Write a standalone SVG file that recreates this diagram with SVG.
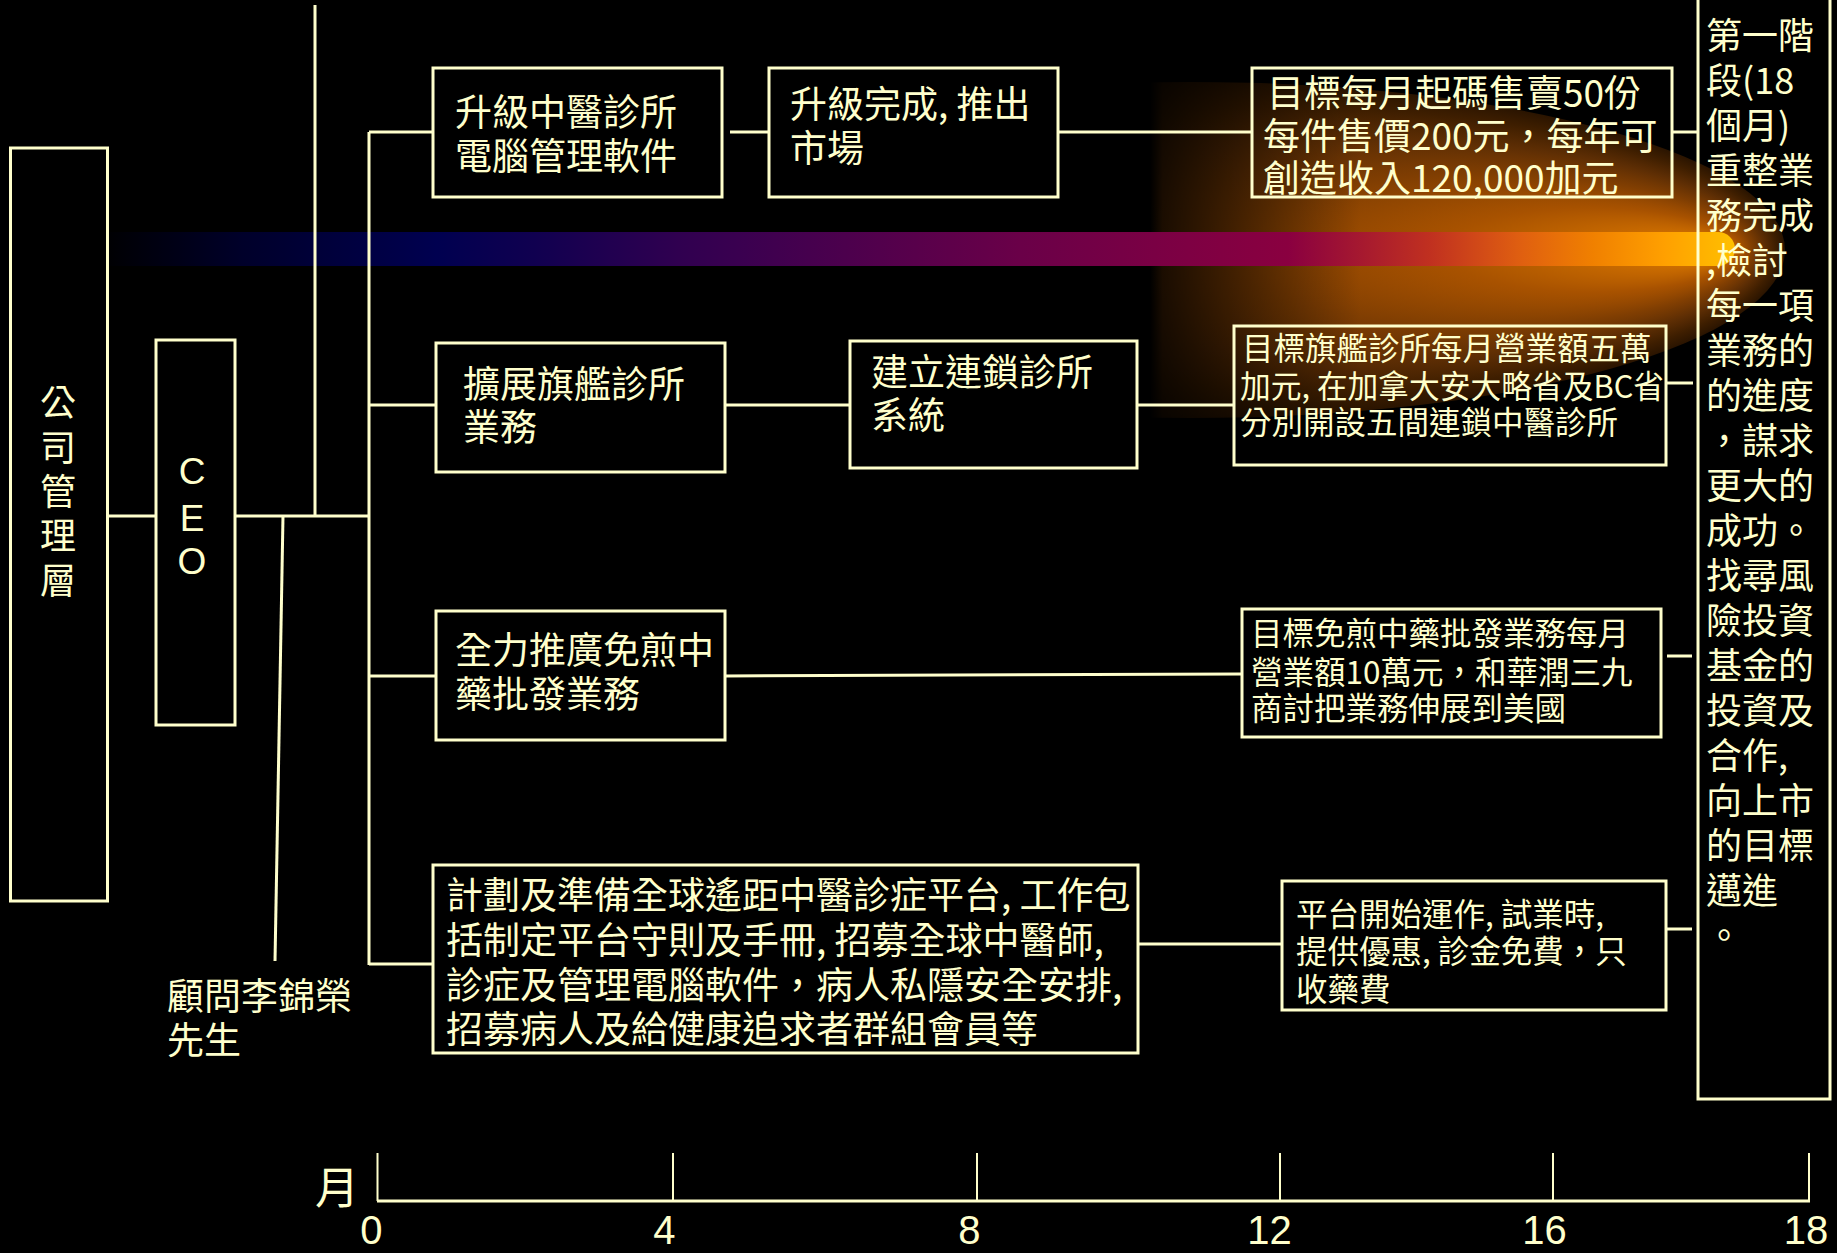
<svg xmlns="http://www.w3.org/2000/svg" width="1837" height="1253" viewBox="0 0 1837 1253">
<style>
.b{fill:none;stroke:#ffffcc;stroke-width:3}
.c{fill:none;stroke:#ffffcc;stroke-width:3}
.t{font-family:"Noto Sans CJK TC","Noto Sans CJK SC",sans-serif;fill:#ffffcc}
.f37{font-size:37px}
.f36{font-size:36px}
.f31{font-size:31.5px}
.lat{font-family:"Liberation Sans",Arial,sans-serif;fill:#ffffcc}
</style>
<defs>
<radialGradient id="glowG" cx="0.5" cy="0.5" r="0.5" fx="0.95" fy="0.5">
<stop offset="0" stop-color="#e88a00"/>
<stop offset="0.08" stop-color="#d07000"/>
<stop offset="0.25" stop-color="#a85200"/>
<stop offset="0.45" stop-color="#803e02"/>
<stop offset="0.65" stop-color="#5e2e04"/>
<stop offset="0.85" stop-color="#3e1e00"/>
<stop offset="1" stop-color="#2a1400"/>
</radialGradient>
<linearGradient id="fadeG" gradientUnits="userSpaceOnUse" x1="1150" y1="0" x2="1360" y2="0">
<stop offset="0" stop-color="#000"/>
<stop offset="0.06" stop-color="#3a3a3a"/>
<stop offset="1" stop-color="#fff"/>
</linearGradient>
<mask id="fadeM" maskUnits="userSpaceOnUse" x="0" y="0" width="1837" height="1253">
<rect x="0" y="0" width="1837" height="1253" fill="url(#fadeG)"/>
</mask>
<linearGradient id="barG" gradientUnits="userSpaceOnUse" x1="100" y1="0" x2="1735" y2="0">
<stop offset="0" stop-color="#000000"/>
<stop offset="0.087" stop-color="#00002a"/>
<stop offset="0.206" stop-color="#000050"/>
<stop offset="0.265" stop-color="#100050"/>
<stop offset="0.354" stop-color="#300050"/>
<stop offset="0.391" stop-color="#3a0050"/>
<stop offset="0.563" stop-color="#6a0048"/>
<stop offset="0.727" stop-color="#8a0040"/>
<stop offset="0.813" stop-color="#c03020"/>
<stop offset="0.870" stop-color="#e06010"/>
<stop offset="0.913" stop-color="#f08000"/>
<stop offset="0.957" stop-color="#ffa000"/>
<stop offset="1" stop-color="#ffc000"/>
</linearGradient>
</defs>
<rect x="0" y="0" width="1837" height="1253" fill="#000"/>

<g id="comet">
<ellipse cx="1190" cy="250" rx="595" ry="168" fill="url(#glowG)" mask="url(#fadeM)"/>
<path d="M100,232 H1718 A17,17 0 0 1 1718,266 H100 Z" fill="url(#barG)"/>
</g>

<g id="connectors">
<line class="c" x1="107" y1="516" x2="156" y2="516"/>
<line class="c" x1="235" y1="516" x2="369" y2="516"/>
<line class="c" x1="315" y1="5" x2="315" y2="516"/>
<line class="c" x1="283" y1="516" x2="275" y2="961"/>
<line class="c" x1="369" y1="132" x2="369" y2="965"/>
<line class="c" x1="369" y1="132" x2="433" y2="132"/>
<line class="c" x1="369" y1="405" x2="436" y2="405"/>
<line class="c" x1="369" y1="676" x2="436" y2="676"/>
<line class="c" x1="369" y1="964" x2="433" y2="964"/>
<line class="c" x1="730" y1="132" x2="769" y2="132"/>
<line class="c" x1="1058" y1="132" x2="1252" y2="132"/>
<line class="c" x1="1672" y1="132" x2="1698" y2="132"/>
<line class="c" x1="725" y1="405" x2="850" y2="405"/>
<line class="c" x1="1137" y1="405" x2="1234" y2="405"/>
<line class="c" x1="1666" y1="383" x2="1693" y2="383"/>
<line class="c" x1="725" y1="676" x2="1242" y2="674"/>
<line class="c" x1="1667" y1="656" x2="1692" y2="656"/>
<line class="c" x1="1137" y1="944" x2="1282" y2="944"/>
<line class="c" x1="1666" y1="929" x2="1692" y2="929"/>
</g>

<g id="mgmt">
<rect class="b" x="10.5" y="148" width="97" height="753"/>
<text class="t f36" text-anchor="middle"><tspan x="58" y="416">公</tspan><tspan x="58" y="461">司</tspan><tspan x="58" y="505">管</tspan><tspan x="58" y="549">理</tspan><tspan x="58" y="594">層</tspan></text>
</g>

<g id="ceo">
<rect class="b" x="156" y="340" width="79" height="385"/>
<text class="lat" font-size="37" text-anchor="middle"><tspan x="192" y="484">C</tspan><tspan x="192" y="531">E</tspan><tspan x="192" y="574">O</tspan></text>
</g>

<g id="advisor">
<text class="t f37"><tspan x="167" y="1010">顧問李錦榮</tspan><tspan x="167" y="1054">先生</tspan></text>
</g>

<g id="box1">
<rect class="b" x="433" y="68" width="289" height="129"/>
<text class="t f37"><tspan x="455" y="126">升級中醫診所</tspan><tspan x="455" y="170">電腦管理軟件</tspan></text>
</g>

<g id="box2">
<rect class="b" x="769" y="68" width="289" height="129"/>
<text class="t f37"><tspan x="790" y="118">升級完成, 推出</tspan><tspan x="790" y="162">市場</tspan></text>
</g>

<g id="box3">
<rect class="b" x="1252" y="68" width="420" height="129"/>
<text class="t f37"><tspan x="1267" y="107">目標每月起碼售賣50份</tspan><tspan x="1263" y="150">每件售價200元，每年可</tspan><tspan x="1263" y="192">創造收入120,000加元</tspan></text>
</g>

<g id="box4">
<rect class="b" x="436" y="343" width="289" height="129"/>
<text class="t f37"><tspan x="463" y="398">擴展旗艦診所</tspan><tspan x="463" y="441">業務</tspan></text>
</g>

<g id="box5">
<rect class="b" x="850" y="341" width="287" height="127"/>
<text class="t f37"><tspan x="871" y="386">建立連鎖診所</tspan><tspan x="871" y="429">系統</tspan></text>
</g>

<g id="box6">
<rect class="b" x="1234" y="326" width="432" height="139"/>
<text class="t f31" x="1242" y="360">目標旗艦診所每月營業額五萬</text>
<text class="t f31" x="1240" y="398" textLength="424" lengthAdjust="spacingAndGlyphs">加元, 在加拿大安大略省及BC省</text>
<text class="t f31" x="1240" y="434">分別開設五間連鎖中醫診所</text>
</g>

<g id="box7">
<rect class="b" x="436" y="611" width="289" height="129"/>
<text class="t f37"><tspan x="455" y="664">全力推廣免煎中</tspan><tspan x="455" y="708">藥批發業務</tspan></text>
</g>

<g id="box8">
<rect class="b" x="1242" y="609" width="419" height="128"/>
<text class="t f31"><tspan x="1251" y="645">目標免煎中藥批發業務每月</tspan><tspan x="1251" y="684">營業額10萬元，和華潤三九</tspan><tspan x="1251" y="720">商討把業務伸展到美國</tspan></text>
</g>

<g id="box9">
<rect class="b" x="433" y="865" width="705" height="188"/>
<text class="t f37"><tspan x="446" y="909">計劃及準備全球遙距中醫診症平台, 工作包</tspan><tspan x="446" y="954">括制定平台守則及手冊, 招募全球中醫師,</tspan><tspan x="446" y="999">診症及管理電腦軟件，病人私隱安全安排,</tspan><tspan x="446" y="1043">招募病人及給健康追求者群組會員等</tspan></text>
</g>

<g id="box10">
<rect class="b" x="1282" y="881" width="384" height="129"/>
<text class="t f31"><tspan x="1296" y="926">平台開始運作, 試業時,</tspan><tspan x="1296" y="963">提供優惠, 診金免費，只</tspan><tspan x="1296" y="1001">收藥費</tspan></text>
</g>

<g id="phase">
<path class="b" d="M1698,-5 V1099 H1830 V-5"/>
<text class="t f36">
<tspan x="1706" y="49">第一階</tspan>
<tspan x="1706" y="94">段(18</tspan>
<tspan x="1706" y="139">個月)</tspan>
<tspan x="1706" y="184">重整業</tspan>
<tspan x="1706" y="229">務完成</tspan>
<tspan x="1706" y="274">,檢討</tspan>
<tspan x="1706" y="319">每一項</tspan>
<tspan x="1706" y="364">業務的</tspan>
<tspan x="1706" y="409">的進度</tspan>
<tspan x="1706" y="454">，謀求</tspan>
<tspan x="1706" y="499">更大的</tspan>
<tspan x="1706" y="544">成功。</tspan>
<tspan x="1706" y="589">找尋風</tspan>
<tspan x="1706" y="634">險投資</tspan>
<tspan x="1706" y="679">基金的</tspan>
<tspan x="1706" y="724">投資及</tspan>
<tspan x="1706" y="769">合作,</tspan>
<tspan x="1706" y="814">向上市</tspan>
<tspan x="1706" y="859">的目標</tspan>
<tspan x="1706" y="904">邁進</tspan>
<tspan x="1706" y="949">。</tspan>
</text>
</g>

<g id="axis">
<line class="c" x1="377" y1="1201" x2="1810" y2="1201"/>
<g stroke="#ffffcc" stroke-width="2">
<line x1="377.5" y1="1153" x2="377.5" y2="1201"/>
<line x1="673" y1="1153" x2="673" y2="1201"/>
<line x1="977" y1="1153" x2="977" y2="1201"/>
<line x1="1280" y1="1153" x2="1280" y2="1201"/>
<line x1="1553" y1="1153" x2="1553" y2="1201"/>
<line x1="1809" y1="1153" x2="1809" y2="1201"/>
</g>
<text class="t" font-size="44" x="315" y="1204">月</text>
<text class="lat" font-size="40" text-anchor="middle">
<tspan x="377" y="1244">0</tspan>
<tspan x="670" y="1244">4</tspan>
<tspan x="975" y="1244">8</tspan>
<tspan x="1275" y="1244">12</tspan>
<tspan x="1550" y="1244">16</tspan>
<tspan x="1806" y="1244">18</tspan>
</text>
</g>
</svg>
